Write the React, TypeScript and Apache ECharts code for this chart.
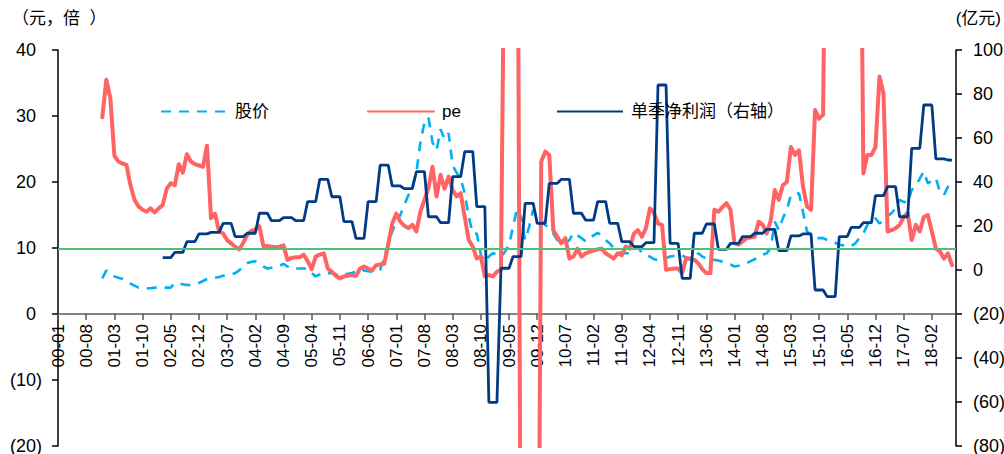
import React, { useEffect, useRef } from "react";
import * as echarts from "echarts";

const FONT = '"Liberation Sans", Arial, "Noto Sans CJK SC", sans-serif';

// Month categories 2000-01 .. 2018-08 (YY-MM)
const FIRST_YEAR = 0;
const LAST_YEAR = 18;
const LAST_MONTH = 8;
const categories: string[] = [];
for (let y = FIRST_YEAR; y <= LAST_YEAR; y++) {
  for (let m = 1; m <= 12; m++) {
    if (y === LAST_YEAR && m > LAST_MONTH) break;
    categories.push(`${String(y).padStart(2, "0")}-${String(m).padStart(2, "0")}`);
  }
}

const SERIES_NAMES = ["股价", "pe", "单季净利润（右轴）"];

// 股价 (left axis), starts at index 11 (00-12)
const PRICE_START = 11;
const price = [
  5.4, 6.6, 6.0, 5.7, 5.5, 5.3, 5.0, 4.6, 4.3, 4.0,
  4.0, 3.9, 3.9, 4.0, 4.0, 4.0, 4.0, 4.0, 4.7, 4.6,
  4.5, 4.4, 4.4, 4.5, 4.7, 5.0, 5.3, 5.4, 5.5, 5.6,
  5.8, 5.9, 6.0, 6.2, 6.6, 7.2, 7.7, 7.9, 8.0, 7.5,
  7.2, 6.9, 7.0, 7.1, 7.3, 7.6, 7.2, 6.8, 6.9, 6.9,
  6.9, 6.9, 6.2, 5.7, 6.0, 6.3, 6.2, 6.2, 6.0, 5.8,
  5.9, 6.1, 6.2, 6.5, 6.8, 6.6, 6.5, 6.4, 6.6, 6.7,
  8.5, 10.7, 12.5, 14.0, 15.0, 16.5, 18.0, 19.3, 21.5, 26.0,
  29.0, 29.8, 26.0, 24.8, 28.0, 26.5, 27.4, 22.5, 21.4, 20.5,
  18.3, 14.7, 12.2, 12.2, 9.0, 7.9, 8.7, 9.2, 9.0, 8.7,
  9.4, 10.5, 13.2, 16.0, 14.7, 11.2, 13.2, 15.8, 15.0, 14.2,
  13.5, 13.0, 12.2, 11.2, 10.9, 10.7, 11.2, 12.3, 11.9, 11.5,
  11.0, 11.5, 11.9, 12.3, 11.9, 11.2, 10.7, 10.0, 9.5, 9.2,
  9.2, 9.2, 9.8, 10.2, 9.2, 8.9, 8.7, 8.3, 8.2, 8.2,
  8.5, 8.7, 8.8, 8.9, 8.9, 8.5, 8.2, 8.8, 9.2, 8.7,
  8.4, 8.2, 8.2, 8.1, 7.9, 7.7, 7.5, 7.2, 7.3, 7.5,
  7.7, 8.0, 8.3, 8.6, 9.0, 9.2, 10.0, 14.0, 12.7, 14.5,
  15.8, 18.0, 18.2, 18.3, 15.5, 12.5, 12.0, 11.5, 11.5, 11.5,
  11.2, 11.0, 10.8, 10.5, 10.4, 10.2, 10.3, 10.7, 11.5, 12.2,
  13.5, 14.0, 14.5, 13.7, 14.2, 14.8, 15.3, 16.0, 17.3, 17.0,
  16.8, 18.8, 19.5, 20.5, 21.6, 19.8, 20.2, 20.6, 18.5, 18.0,
  19.3, 20.3,
];

// pe (left axis), starts at index 11
const PE_START = 11;
const pe = [
  29.8, 35.5, 32.7, 24.0, 23.1, 22.8, 22.6, 19.5, 17.3, 16.3,
  15.8, 15.5, 16.0, 15.4, 16.0, 16.5, 19.0, 19.8, 19.5, 22.7,
  21.4, 24.2, 23.1, 22.7, 22.5, 22.3, 25.5, 14.5, 15.2, 12.5,
  12.2, 11.2, 10.7, 10.2, 9.8, 10.8, 12.0, 12.6, 12.8, 13.3,
  10.3, 10.3, 10.2, 10.1, 10.2, 10.4, 8.2, 8.5, 8.6, 8.6,
  9.0, 8.0, 6.8, 8.7, 9.0, 9.2, 6.9, 6.4, 5.8, 5.4,
  5.7, 5.8, 5.9, 5.8, 6.9, 7.2, 6.9, 6.6, 7.4, 7.5,
  7.6, 10.5, 13.7, 15.2, 14.0, 13.4, 13.0, 13.5, 12.5, 15.5,
  17.3, 19.1, 22.3, 17.8, 21.1, 19.0, 20.8, 18.8, 17.8, 18.3,
  14.7, 11.2, 10.2, 8.4, 8.7, 5.7, 5.9, 5.7, 6.4, 6.7,
  70, 95, 100, 87, -56, -70, -80, -75, -79, 23.1,
  24.6, 24.1, 12.7, 11.7, 10.7, 11.5, 8.4, 8.7, 9.9, 8.7,
  9.2, 9.4, 9.6, 9.8, 9.9, 9.2, 8.8, 8.4, 9.2, 8.9,
  10.2, 9.9, 12.2, 12.7, 11.7, 13.0, 16.0, 15.3, 13.7, 13.5,
  6.7, 6.8, 6.9, 6.9, 6.2, 8.5, 8.4, 8.2, 7.7, 6.8,
  6.2, 6.2, 15.8, 15.5, 16.2, 16.8, 15.8, 10.7, 10.5, 11.0,
  11.5, 11.6, 11.7, 14.0, 13.5, 12.2, 14.2, 18.8, 17.3, 19.5,
  20.0, 25.3, 24.1, 24.8, 19.3, 16.3, 15.8, 30.9, 29.6, 30.2,
  90, 120, 150, 140, 130, 150, 120, 100, 88, 21.3,
  24.1, 24.1, 25.3, 36.0, 33.4, 12.5, 12.7, 13.0, 13.5, 14.7,
  15.3, 11.2, 13.5, 12.5, 14.7, 15.0, 12.5, 9.9, 9.5, 8.4,
  9.2, 7.4,
];

// 单季净利润 (right axis, 亿元), starts at index 26 (02-03)
const PROFIT_START = 26;
const profit = [
  5.6, 5.6, 5.6, 8.0, 8.0, 8.0, 12.9, 12.9, 12.9,
  16.4, 16.4, 16.4, 17.1, 17.1, 17.1, 21.2, 21.2, 21.2,
  15.2, 15.2, 15.2, 16.7, 16.7, 16.7, 25.8, 25.8, 25.8,
  22.4, 22.4, 22.4, 23.8, 23.8, 23.8, 22.4, 22.4, 22.4,
  31.1, 31.1, 31.1, 41.2, 41.2, 41.2, 33.3, 33.3, 33.3,
  22.0, 22.0, 22.0, 14.4, 14.4, 14.4, 31.1, 31.1, 31.1,
  47.7, 47.7, 47.7, 38.2, 38.2, 38.2, 37.0, 37.0, 37.0,
  44.7, 44.7, 44.7, 24.2, 24.2, 24.2, 21.5, 21.5, 21.5,
  42.4, 42.4, 42.4, 53.8, 53.8, 53.8, 28.8, 28.8, 28.8,
  -60.2, -60.2, -60.2, 0.8, 0.8, 0.8, 6.1, 6.1, 6.1,
  30.3, 30.3, 30.3, 21.2, 21.2, 21.2, 39.4, 39.4, 39.4,
  41.2, 41.2, 41.2, 25.8, 25.8, 25.8, 22.7, 22.7, 22.7,
  31.1, 31.1, 31.1, 21.2, 21.2, 21.2, 12.9, 12.9, 12.9,
  10.6, 10.6, 10.6, 12.4, 12.4, 12.4, 84.1, 84.1, 84.1,
  12.1, 12.1, 12.1, -3.8, -3.8, -3.8, 16.7, 16.7, 16.7,
  20.9, 20.9, 20.9, 9.4, 9.4, 9.4, 12.1, 12.1, 12.1,
  15.2, 15.2, 15.2, 16.7, 16.7, 16.7, 18.5, 18.5, 18.5,
  8.8, 8.8, 8.8, 15.5, 15.5, 15.5, 16.4, 16.4, 16.4,
  -9.1, -9.1, -9.1, -12.1, -12.1, -12.1, 15.2, 15.2, 15.2,
  19.4, 19.4, 19.4, 21.5, 21.5, 21.5, 33.8, 33.8, 33.8,
  37.9, 37.9, 37.9, 24.2, 24.2, 24.2, 55.3, 55.3, 55.3,
  75.0, 75.0, 75.0, 50.5, 50.5, 50.5, 50.0, 49.9,
];

const PE_REF_LINE = 9.9;

const LEFT_AXIS = { min: -20, max: 40, interval: 10 };
const RIGHT_AXIS = { min: -80, max: 100, interval: 20 };

const GRID = { left: 58, right: 48, top: 50, bottom: 8 };
const CHART_H = 454;

const pad = (arr: number[], start: number) =>
  (new Array(start).fill(null) as (number | null)[]).concat(arr);

export default function App() {
  const ref = useRef<HTMLDivElement>(null);

  useEffect(() => {
    if (!ref.current) return;
    const chart = echarts.init(ref.current, undefined, { renderer: "svg" });

    // x axis sits at the left axis' zero: move it up from the grid bottom by the
    // share of the grid height that lies below zero on the left axis
    const gridH = CHART_H - GRID.top - GRID.bottom;
    const zeroOffset =
      -gridH * ((0 - LEFT_AXIS.min) / (LEFT_AXIS.max - LEFT_AXIS.min));

    const legendCommon = {
      top: 103,
      padding: 0,
      itemWidth: 66,
      itemHeight: 14,
      itemStyle: { opacity: 0 },
      textStyle: { fontFamily: FONT, fontSize: 17, color: "#000", padding: [0, 0, 0, 3] },
      selectedMode: false,
    };

    const negFmt = (v: number) => (v < 0 ? `(${Math.abs(v)})` : `${v}`);

    chart.setOption({
      animation: false,
      backgroundColor: "#fff",
      grid: { ...GRID, containLabel: false, outerBoundsMode: "none" },
      legend: [
        { ...legendCommon, left: 160, data: [SERIES_NAMES[0]] },
        { ...legendCommon, left: 367, data: [SERIES_NAMES[1]] },
        { ...legendCommon, left: 556, data: [SERIES_NAMES[2]] },
      ],
      graphic: [
        {
          type: "text",
          left: 12,
          top: 10,
          style: { text: "（元，倍  ）", fontFamily: FONT, fontSize: 17, fill: "#000" },
        },
        {
          type: "text",
          right: 3,
          top: 10,
          style: { text: "(亿元)", fontFamily: FONT, fontSize: 17, fill: "#000" },
        },
      ],
      xAxis: {
        type: "category",
        data: categories,
        boundaryGap: false,
        position: "bottom",
        offset: zeroOffset,
        axisLine: { onZero: false, lineStyle: { color: "#595959", width: 1.5 } },
        axisTick: { show: true, interval: 6, length: 6, lineStyle: { color: "#595959", width: 1.5 } },
        axisLabel: {
          show: true,
          interval: 6,
          rotate: 90,
          margin: 10,
          hideOverlap: false,
          fontFamily: FONT,
          fontSize: 17,
          color: "#000",
        },
        splitLine: { show: false },
      },
      yAxis: [
        {
          type: "value",
          position: "left",
          ...LEFT_AXIS,
          axisLine: { show: true, lineStyle: { color: "#000", width: 1.5 } },
          axisTick: { show: true, length: 6, lineStyle: { color: "#000", width: 1.5 } },
          splitLine: { show: false },
          axisLabel: {
            margin: 16,
            color: "#000",
            fontFamily: FONT,
            fontSize: 18,
            formatter: (v: number) => (v < 0 ? `(${Math.abs(v)})` : `{p|${v}}`),
            rich: { p: { padding: [0, 6, 0, 0], fontFamily: FONT, fontSize: 18, color: "#000" } },
          },
        },
        {
          type: "value",
          position: "right",
          ...RIGHT_AXIS,
          axisLine: { show: true, lineStyle: { color: "#000", width: 1.5 } },
          axisTick: { show: true, length: 6, lineStyle: { color: "#000", width: 1.5 } },
          splitLine: { show: false },
          axisLabel: {
            margin: 17,
            color: "#000",
            fontFamily: FONT,
            fontSize: 18,
            formatter: negFmt,
          },
        },
      ],
      series: [
        {
          name: SERIES_NAMES[0],
          type: "line",
          yAxisIndex: 0,
          data: pad(price, PRICE_START),
          symbol: "none",
          clip: true,
          lineStyle: { color: "#00B0F0", width: 2.6, type: [10, 8] },
          itemStyle: { color: "#00B0F0" },
        },
        {
          name: SERIES_NAMES[1],
          type: "line",
          yAxisIndex: 0,
          data: pad(pe, PE_START),
          symbol: "none",
          clip: true,
          lineStyle: { color: "#FF6363", width: 4, cap: "round", join: "round" },
          itemStyle: { color: "#FF6363" },
          markLine: {
            silent: true,
            symbol: ["none", "none"],
            label: { show: false },
            lineStyle: { color: "#4FBF7A", width: 2, type: "solid" },
            data: [{ yAxis: PE_REF_LINE }],
          },
        },
        {
          name: SERIES_NAMES[2],
          type: "line",
          yAxisIndex: 1,
          data: pad(profit, PROFIT_START),
          symbol: "none",
          clip: true,
          lineStyle: { color: "#023B85", width: 2.8 },
          itemStyle: { color: "#023B85" },
        },
      ],
    });

    return () => chart.dispose();
  }, []);

  return (
    <div
      ref={ref}
      style={{ position: "fixed", left: 0, top: 0, width: 1004, height: CHART_H, background: "#fff" }}
    />
  );
}
